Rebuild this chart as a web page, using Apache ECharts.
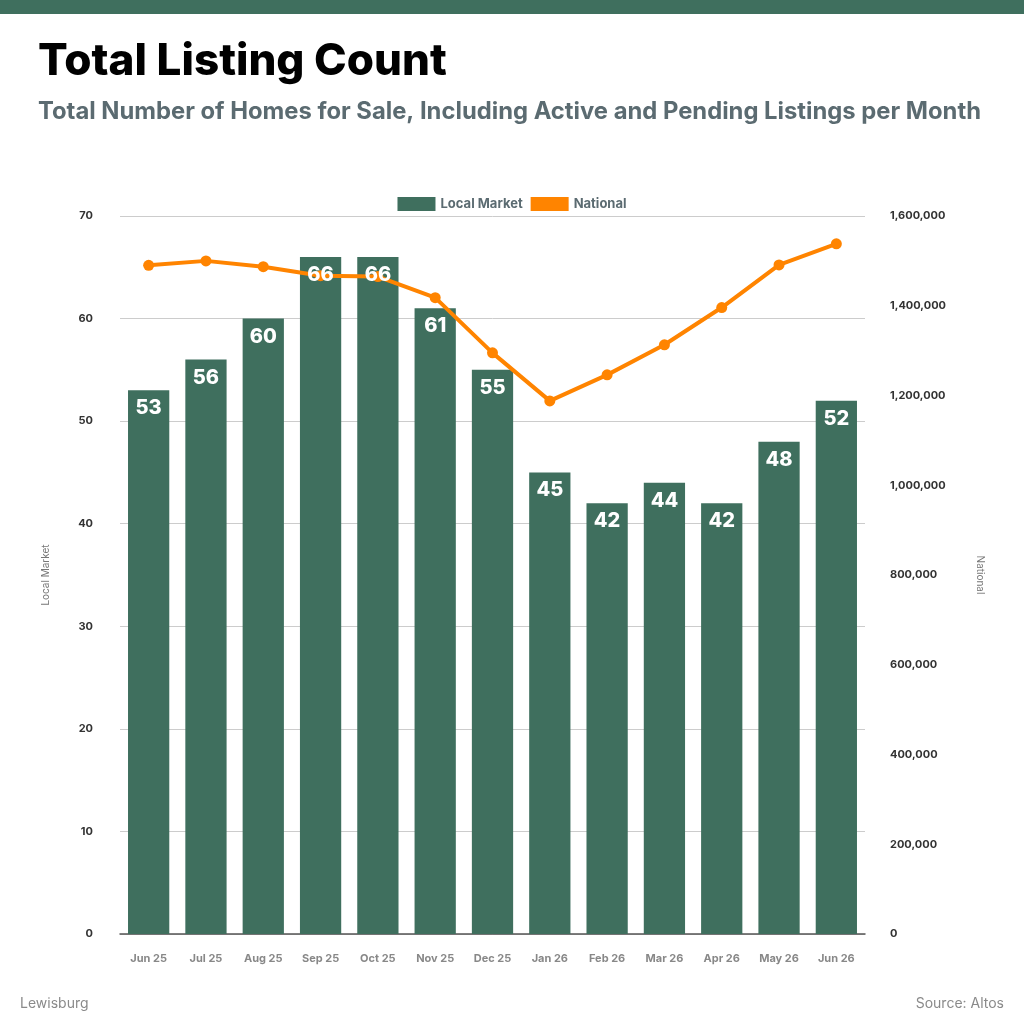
<!DOCTYPE html>
<html>
<head>
<meta charset="utf-8">
<script src="https://cdn.jsdelivr.net/npm/echarts@6/dist/echarts.min.js"></script>
<style>
html,body{margin:0;padding:0;background:#fff;}
#c{width:1024px;height:1024px;}
</style>
</head>
<body>
<div id="c"></div>
<script>
const categories = ["Jun 25","Jul 25","Aug 25","Sep 25","Oct 25","Nov 25","Dec 25","Jan 26","Feb 26","Mar 26","Apr 26","May 26","Jun 26"];
const localMarket = [53,56,60,66,66,61,55,45,42,44,42,48,52];
const national = [1490000,1500000,1487000,1467000,1465000,1418000,1295000,1188000,1246000,1313000,1396000,1491000,1538000];
const leftTicks = {min:0, max:70, interval:10};
const rightTicks = {min:0, max:1600000, interval:200000};

const green = '#3f6f5e';
const orange = '#ff8400';
const font = 'Inter';

const chart = echarts.init(document.getElementById('c'));
chart.setOption({
  backgroundColor:'#fff',
  animation:false,
  graphic:[
    {type:'rect', left:0, top:0, shape:{width:1024, height:14}, style:{fill:green}},
    {type:'text', left:38, top:40, style:{text:'Total Listing Count', fill:'#000', font:'800 44px Inter'}},
    {type:'text', left:38, top:100, style:{text:'Total Number of Homes for Sale, Including Active and Pending Listings per Month', fill:'#5b6b71', font:'700 23.8px Inter'}},
    {type:'text', left:20, top:997, style:{text:'Lewisburg', fill:'#8a8a8a', font:'400 14px Inter'}},
    {type:'text', right:20, top:997, style:{text:'Source: Altos', fill:'#8a8a8a', font:'400 14px Inter'}}
  ],
  legend:{
    top:192, left:'center',
    itemWidth:38, itemHeight:14, itemGap:8,
    icon:'rect',
    textStyle:{color:'#5b6b71', fontWeight:'bold', fontSize:13, fontFamily:font},
    data:['Local Market','National']
  },
  grid:{left:120, right:159, top:216, bottom:90, containLabel:false},
  xAxis:{
    type:'category', data:categories,
    axisLine:{lineStyle:{color:'#555', width:1.5}},
    axisTick:{show:false},
    axisLabel:{color:'#888', fontWeight:'bold', fontSize:11, fontFamily:font, margin:19}
  },
  yAxis:[
    {type:'value', name:'Local Market', nameLocation:'middle', nameGap:69, nameRotate:90,
     nameTextStyle:{color:'#777', fontSize:10, fontFamily:font},
     min:leftTicks.min, max:leftTicks.max, interval:leftTicks.interval,
     axisLabel:{color:'#333', fontWeight:'bold', fontSize:11, fontFamily:font, margin:27},
     axisLine:{show:false}, axisTick:{show:false},
     splitLine:{lineStyle:{color:'#cccccc', width:1}}},
    {type:'value', name:'National', nameLocation:'middle', nameGap:110, nameRotate:270,
     nameTextStyle:{color:'#777', fontSize:10, fontFamily:font},
     min:rightTicks.min, max:rightTicks.max, interval:rightTicks.interval,
     axisLabel:{color:'#333', fontWeight:'bold', fontSize:11, fontFamily:font, margin:25,
       formatter:v=>v.toLocaleString('en-US')},
     axisLine:{show:false}, axisTick:{show:false},
     splitLine:{show:false}}
  ],
  series:[
    {name:'Local Market', type:'bar', data:localMarket, yAxisIndex:0,
     barCategoryGap:'28%', itemStyle:{color:green}, z:2},
    {name:'National', type:'line', data:national, yAxisIndex:1,
     symbol:'circle', symbolSize:11, z:5,
     lineStyle:{color:orange, width:4}, itemStyle:{color:orange}},
    {name:'labels', type:'bar', data:localMarket, yAxisIndex:0, barGap:'-100%',
     barCategoryGap:'28%', itemStyle:{color:'rgba(0,0,0,0)'}, z:10, silent:true,
     label:{show:true, position:'insideTop', distance:8, color:'#fff', fontWeight:800, fontSize:20, fontFamily:font}}
  ]
});
</script>
</body>
</html>
